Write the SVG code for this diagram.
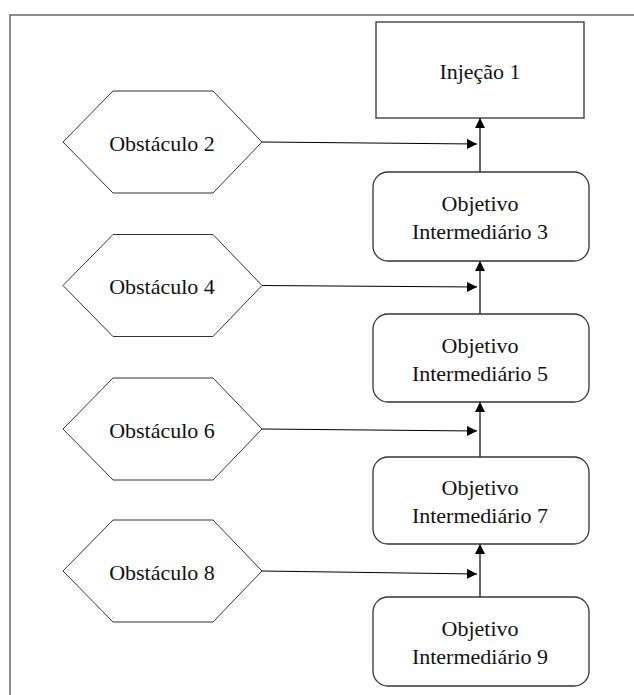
<svg xmlns="http://www.w3.org/2000/svg" width="634" height="695" viewBox="0 0 634 695">
  <style>
    .frame { fill: none; stroke: #666; stroke-width: 1.5; }
    .box { fill: #fff; stroke: #333; stroke-width: 1.3; }
    .hex { fill: #fff; stroke: #333; stroke-width: 1; }
    .label { font-family: "Liberation Serif", "Times New Roman", serif; font-size: 22px; fill: #111; text-anchor: middle; }
    .conn { fill: none; stroke: #000; stroke-width: 1.2; marker-end: url(#arrow); }
  </style>
  <defs>
    <marker id="arrow" viewBox="0 0 10 10" refX="10" refY="5" markerWidth="10" markerHeight="10" markerUnits="userSpaceOnUse" orient="auto">
      <path d="M0,0 L10,5 L0,10 Z" fill="#000"/>
    </marker>
  </defs>

  <rect x="0" y="0" width="634" height="695" fill="#fff"/>
  <!-- outer frame, running off the right and bottom edges -->
  <rect class="frame" x="10" y="15" width="640" height="700"/>

  <g id="connectors">
    <!-- obstacles into the main column -->
    <path class="conn" d="M262,142 L477,144"/>
    <path class="conn" d="M262,285.5 L477,287"/>
    <path class="conn" d="M262,429 L477,431"/>
    <path class="conn" d="M262,571 L477,574"/>
    <!-- upward chain -->
    <path class="conn" d="M480,172 L480,118"/>
    <path class="conn" d="M480,314 L480,261"/>
    <path class="conn" d="M480,457 L480,402"/>
    <path class="conn" d="M480,597 L480,544"/>
  </g>

  <g id="injecao-1">
    <rect class="box" x="376" y="22" width="208" height="96"/>
    <text class="label" x="480" y="79">Injeção 1</text>
  </g>

  <g id="objetivo-3">
    <rect class="box" x="373" y="172" width="216" height="89" rx="15"/>
    <text class="label" x="480" y="211">Objetivo</text>
    <text class="label" x="480" y="239">Intermediário 3</text>
  </g>

  <g id="objetivo-5">
    <rect class="box" x="373" y="314" width="216" height="88" rx="15"/>
    <text class="label" x="480" y="353">Objetivo</text>
    <text class="label" x="480" y="381">Intermediário 5</text>
  </g>

  <g id="objetivo-7">
    <rect class="box" x="373" y="457" width="216" height="87" rx="15"/>
    <text class="label" x="480" y="495">Objetivo</text>
    <text class="label" x="480" y="523">Intermediário 7</text>
  </g>

  <g id="objetivo-9">
    <rect class="box" x="373" y="597" width="216" height="89" rx="15"/>
    <text class="label" x="480" y="636">Objetivo</text>
    <text class="label" x="480" y="664">Intermediário 9</text>
  </g>

  <g id="obstaculo-2">
    <polygon class="hex" points="63,142 113,91 213,91 262,142 213,193 113,193"/>
    <text class="label" x="162" y="151">Obstáculo 2</text>
  </g>

  <g id="obstaculo-4">
    <polygon class="hex" points="63,285.5 113,234.5 213,234.5 262,285.5 213,336.5 113,336.5"/>
    <text class="label" x="162" y="294">Obstáculo 4</text>
  </g>

  <g id="obstaculo-6">
    <polygon class="hex" points="63,429 113,378 213,378 262,429 213,480 113,480"/>
    <text class="label" x="162" y="438">Obstáculo 6</text>
  </g>

  <g id="obstaculo-8">
    <polygon class="hex" points="63,571 113,520 213,520 262,571 213,622 113,622"/>
    <text class="label" x="162" y="580">Obstáculo 8</text>
  </g>
</svg>
